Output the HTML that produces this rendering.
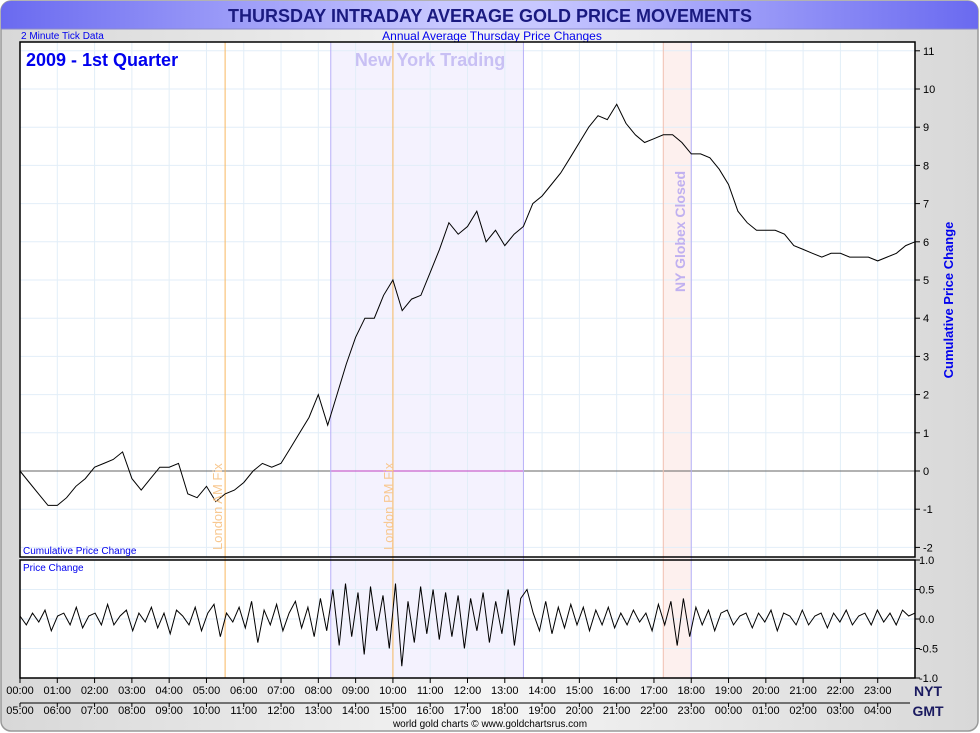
<!DOCTYPE html>
<html><head><meta charset="utf-8"><style>
html,body{margin:0;padding:0;background:#fff}
svg{display:block;font-family:"Liberation Sans",sans-serif}
</style></head><body>
<svg id="chart" width="980" height="733" viewBox="0 0 980 733">
<defs>
<linearGradient id="bg" x1="0" y1="0" x2="1" y2="0"><stop offset="0" stop-color="#d8d8d8"/><stop offset="0.5" stop-color="#f4f4f4"/><stop offset="1" stop-color="#d8d8d8"/></linearGradient>
<linearGradient id="tb" x1="0" y1="0" x2="1" y2="0"><stop offset="0" stop-color="#6a6af0"/><stop offset="0.45" stop-color="#c8c8ff"/><stop offset="0.55" stop-color="#c8c8ff"/><stop offset="1" stop-color="#6a6af0"/></linearGradient>
</defs>
<rect x="1" y="1" width="977" height="730" rx="10" fill="url(#bg)" stroke="#999" stroke-width="1.5"/>
<rect x="1" y="1" width="977" height="28" rx="10" fill="url(#tb)"/>
<rect x="1" y="20" width="977" height="9" fill="url(#tb)"/>
<line x1="1" y1="29" x2="978" y2="29" stroke="#8888cc"/>
<text x="490" y="22" text-anchor="middle" font-size="18" font-weight="bold" fill="#1a1a80">THURSDAY INTRADAY AVERAGE GOLD PRICE MOVEMENTS</text>
<text x="21" y="39" font-size="10" fill="#0000ee">2 Minute Tick Data</text>
<text x="492" y="40" text-anchor="middle" font-size="12" fill="#0000ee">Annual Average Thursday Price Changes</text>
<rect x="20" y="42" width="895" height="515" fill="#fff"/>
<rect x="20" y="560" width="895" height="118" fill="#fff"/>
<g id="bands"></g>
<g id="grid"></g>
<g id="series"></g>
<rect x="20" y="42" width="895" height="515" fill="none" stroke="#000" stroke-width="1.5"/>
<rect x="20" y="560" width="895" height="118" fill="none" stroke="#000" stroke-width="1.5"/>
<text x="26" y="66" font-size="18" font-weight="bold" fill="#0000ee">2009 - 1st Quarter</text>
<text x="430" y="66" text-anchor="middle" font-size="18" font-weight="bold" fill="#c8c0f4">New York Trading</text>
<text transform="translate(222,550) rotate(-90)" font-size="13" fill="#f8c890">London AM Fix</text>
<text transform="translate(393,550) rotate(-90)" font-size="13" fill="#f8c890">London PM Fix</text>
<text transform="translate(685,292) rotate(-90)" font-size="14" font-weight="bold" fill="#c0b0f0">NY Globex Closed</text>
<text x="23" y="554" font-size="10" fill="#0000ee">Cumulative Price Change</text>
<text x="23" y="571" font-size="10" fill="#0000ee">Price Change</text>
<text transform="translate(953,300) rotate(-90)" text-anchor="middle" font-size="13" font-weight="bold" fill="#0000ee">Cumulative Price Change</text>
<g id="axes"></g>
<line x1="20" y1="703" x2="910" y2="703" stroke="#000"/>
<text x="928" y="696" text-anchor="middle" font-size="14" font-weight="bold" fill="#1a1a60">NYT</text>
<text x="928" y="716" text-anchor="middle" font-size="14" font-weight="bold" fill="#1a1a60">GMT</text>
<text x="490" y="727" text-anchor="middle" font-size="10" fill="#000">world gold charts © www.goldchartsrus.com</text>
</svg>
<script>
const cumulative = [0,-0.3,-0.6,-0.9,-0.9,-0.7,-0.4,-0.2,0.1,0.2,0.3,0.5,-0.2,-0.5,-0.2,0.1,0.1,0.2,-0.6,-0.7,-0.4,-0.8,-0.6,-0.5,-0.3,0.0,0.2,0.1,0.2,0.6,1.0,1.4,2.0,1.2,2.0,2.8,3.5,4.0,4.0,4.6,5.0,4.2,4.5,4.6,5.2,5.8,6.5,6.2,6.4,6.8,6.0,6.3,5.9,6.2,6.4,7.0,7.2,7.5,7.8,8.2,8.6,9.0,9.3,9.2,9.6,9.1,8.8,8.6,8.7,8.8,8.8,8.6,8.3,8.3,8.2,7.9,7.5,6.8,6.5,6.3,6.3,6.3,6.2,5.9,5.8,5.7,5.6,5.7,5.7,5.6,5.6,5.6,5.5,5.6,5.7,5.9,6.0];
const priceChange = [0.05,-0.1,0.1,-0.05,0.15,-0.2,0.05,0.1,-0.1,0.2,-0.15,0.05,0.1,-0.1,0.25,-0.1,0.05,0.15,-0.2,0.1,-0.05,0.2,-0.15,0.1,-0.25,0.15,0.05,-0.1,0.2,-0.2,0.1,0.25,-0.3,0.1,-0.05,0.2,-0.15,0.3,-0.4,0.15,-0.1,0.25,-0.2,0.1,0.3,-0.15,0.2,-0.3,0.35,-0.2,0.5,-0.45,0.6,-0.3,0.45,-0.6,0.55,-0.2,0.4,-0.5,0.6,-0.8,0.3,-0.4,0.55,-0.25,0.5,-0.35,0.45,-0.3,0.4,-0.5,0.35,-0.2,0.45,-0.4,0.3,-0.25,0.5,-0.45,0.35,0.5,0.1,-0.2,0.3,-0.25,0.2,-0.15,0.25,-0.1,0.2,-0.2,0.15,-0.1,0.2,-0.15,0.1,-0.1,0.15,-0.05,0.1,-0.2,0.25,-0.1,0.3,-0.45,0.35,-0.3,0.2,-0.1,0.15,-0.2,0.1,0.15,-0.1,0.05,0.1,-0.15,0.1,-0.05,0.15,-0.2,0.1,0.05,-0.1,0.15,-0.1,0.05,0.1,-0.15,0.1,-0.05,0.15,-0.1,0.05,0.1,-0.1,0.15,-0.05,0.1,-0.1,0.15,0.05,0.1];
const upperTicks = [-2,-1,0,1,2,3,4,5,6,7,8,9,10,11];
const lowerTicks = [-1.0,-0.5,0.0,0.5,1.0];
const nytLabels = ["00:00","01:00","02:00","03:00","04:00","05:00","06:00","07:00","08:00","09:00","10:00","11:00","12:00","13:00","14:00","15:00","16:00","17:00","18:00","19:00","20:00","21:00","22:00","23:00"];
const gmtLabels = ["05:00","06:00","07:00","08:00","09:00","10:00","11:00","12:00","13:00","14:00","15:00","16:00","17:00","18:00","19:00","20:00","21:00","22:00","23:00","00:00","01:00","02:00","03:00","04:00"];

const NS = "http://www.w3.org/2000/svg";
const X0 = 20, X1 = 915;
const xH = h => X0 + (X1 - X0) * h / 24;
const yU = v => 471 - v * 38.2;
const yL = v => 619 - v * 59;
function mk(parent, tag, attrs) {
  const e = document.createElementNS(NS, tag);
  for (const k in attrs) e.setAttribute(k, attrs[k]);
  document.getElementById(parent).appendChild(e);
  return e;
}
// bands
let b = mk("bands", "rect", {x: xH(8 + 20/60), y: 42, width: xH(13.5) - xH(8 + 20/60), height: 636, fill: "#f4f2fe"});


b = mk("bands", "rect", {x: xH(17.25), y: 42, width: xH(18) - xH(17.25), height: 636, fill: "#fdf0ee"});


// grid
for (let h = 1; h < 24; h++) {
  mk("grid", "line", {x1: xH(h), y1: 42, x2: xH(h), y2: 557, stroke: "#e2eef8"});
  mk("grid", "line", {x1: xH(h), y1: 560, x2: xH(h), y2: 678, stroke: "#e2eef8"});
}
upperTicks.forEach(v => { if (v !== 0) mk("grid", "line", {x1: X0, y1: yU(v), x2: X1, y2: yU(v), stroke: "#e2eef8"}); });
lowerTicks.forEach(v => mk("grid", "line", {x1: X0, y1: yL(v), x2: X1, y2: yL(v), stroke: "#e2eef8"}));
let zl = mk("grid", "line", {x1: X0, y1: yU(0), x2: X1, y2: yU(0), stroke: "#666"});


mk("grid", "line", {x1: xH(8 + 20/60), y1: yU(0), x2: xH(13.5), y2: yU(0), stroke: "#c040c0"});
[[xH(8 + 20/60), "#b8b0f8"], [xH(13.5), "#b8b0f8"], [xH(17.25), "#f0c0b0"], [xH(18), "#b8b0f8"], [xH(5.5), "#f8b860"], [xH(10), "#f8b860"]].forEach(([x, c]) => {
  mk("grid", "line", {x1: x, y1: 42, x2: x, y2: 678, stroke: c});
});
// series
let pts = cumulative.map((v, i) => xH(i * 24 / (cumulative.length - 1)).toFixed(1) + "," + yU(v).toFixed(1)).join(" ");
let l = mk("series", "polyline", {points: pts, fill: "none", stroke: "#000", "stroke-width": 1});


pts = priceChange.map((v, i) => xH(i * 24 / (priceChange.length - 1)).toFixed(1) + "," + yL(v).toFixed(1)).join(" ");
l = mk("series", "polyline", {points: pts, fill: "none", stroke: "#000", "stroke-width": 1});


// axes
upperTicks.forEach(v => {
  mk("axes", "line", {x1: X1, y1: yU(v), x2: X1 + 5, y2: yU(v), stroke: "#000"});
  const t = mk("axes", "text", {x: 923, y: yU(v) + 4, "font-size": 11, fill: "#000"});
  t.textContent = v;
  
  
});
lowerTicks.forEach(v => {
  mk("axes", "line", {x1: X1, y1: yL(v), x2: X1 + 5, y2: yL(v), stroke: "#000"});
  const t = mk("axes", "text", {x: 919, y: yL(v) + 4, "font-size": 11, fill: "#000"});
  t.textContent = v.toFixed(1);
  
  
});
nytLabels.forEach((s, i) => {
  mk("axes", "line", {x1: xH(i), y1: 678, x2: xH(i), y2: 683, stroke: "#000"});
  const t = mk("axes", "text", {x: xH(i), y: 694, "text-anchor": "middle", "font-size": 11, fill: "#000"});
  t.textContent = s;
  
  
});
gmtLabels.forEach((s, i) => {
  mk("axes", "line", {x1: xH(i), y1: 703, x2: xH(i), y2: 707, stroke: "#000"});
  const t = mk("axes", "text", {x: xH(i), y: 714, "text-anchor": "middle", "font-size": 11, fill: "#000"});
  t.textContent = s;
  
  
});
</script>
</body></html>
